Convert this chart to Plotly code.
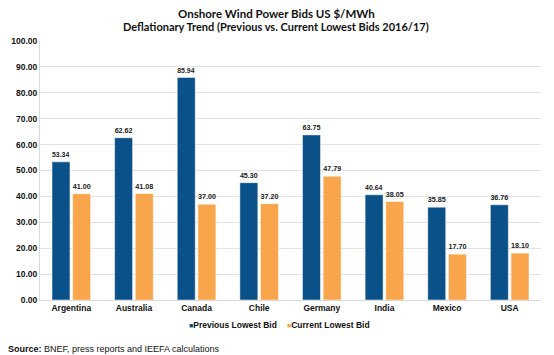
import plotly.graph_objects as go

countries = ["Argentina", "Australia", "Canada", "Chile", "Germany", "India", "Mexico", "USA"]
previous_bid = [53.34, 62.62, 85.94, 45.30, 63.75, 40.64, 35.85, 36.76]
current_bid = [41.00, 41.08, 37.00, 37.20, 47.79, 38.05, 17.70, 18.10]
y_ticks = [0, 10, 20, 30, 40, 50, 60, 70, 80, 90, 100]
series_names = ["Previous Lowest Bid", "Current Lowest Bid"]

BLUE = "#0B5189"
ORANGE = "#F8A54B"
FONT = "Liberation Sans, Arial, sans-serif"
TFONT = "Lato, DejaVu Sans, sans-serif"

fig = go.Figure()
fig.add_trace(go.Bar(
    x=countries, y=previous_bid, name=series_names[0],
    marker=dict(color=BLUE, line=dict(color="white", width=0.5)),
    text=[f"{v:.2f}" for v in previous_bid], textposition="outside",
    textfont=dict(family=FONT, size=7.5, color="#222", weight="bold"), cliponaxis=False,
))
fig.add_trace(go.Bar(
    x=countries, y=current_bid, name=series_names[1],
    marker=dict(color=ORANGE, line=dict(color="white", width=0.5)),
    text=[f"{v:.2f}" for v in current_bid], textposition="outside",
    textfont=dict(family=FONT, size=7.5, color="#222", weight="bold"), cliponaxis=False,
))

# plot area in page pixels: x 40..541, y 40.5..300.5
X0, X1, Y0, Y1 = 40.0, 541.0, 40.5, 300.5

def py(pix):
    return (Y1 - pix) / (Y1 - Y0)

def px(pix):
    return (pix - X0) / (X1 - X0)

# page body has an 8px margin, so the figure is 8px smaller and shifted
fig.update_layout(
    width=546, height=347,
    margin=dict(l=32, r=13, t=32.5, b=54.5, autoexpand=False),
    paper_bgcolor="white", plot_bgcolor="white",
    barmode="group", bargap=0.34, bargroupgap=0.13,
    showlegend=False,
    xaxis=dict(
        showgrid=False, showline=True, linecolor="#D9D9D9", linewidth=1,
        ticks="", tickfont=dict(family=FONT, size=8.5, color="#111", weight="bold"),
    ),
    yaxis=dict(
        range=[0, 100], tickvals=y_ticks, tickformat=".2f",
        showgrid=True, gridcolor="#E3E3E3", gridwidth=1,
        showline=True, linecolor="#D9D9D9",
        zeroline=False,
        tickfont=dict(family=FONT, size=8.5, color="#111", weight="bold"),
    ),
    font=dict(family=FONT),
)

# title
fig.add_annotation(
    text="<b>Onshore Wind Power Bids US $/MWh</b>",
    xref="paper", yref="paper", x=px(276), y=py(12.5), xanchor="center", yanchor="middle",
    showarrow=False, font=dict(family=TFONT, size=11.5, color="#111"),
)
fig.add_annotation(
    text="<b>Deflationary Trend (Previous vs. Current Lowest Bids 2016/17)</b>",
    xref="paper", yref="paper", x=px(276), y=py(26), xanchor="center", yanchor="middle",
    showarrow=False, font=dict(family=TFONT, size=11, color="#111"),
)

# legend
fig.add_annotation(
    text=f"<span style='color:{BLUE};font-size:7px'>■</span><b>{series_names[0]}</b>",
    xref="paper", yref="paper", x=px(187), y=py(326), xanchor="left", yanchor="middle",
    showarrow=False, font=dict(family=FONT, size=8.5, color="#111"),
)
fig.add_annotation(
    text=f"<span style='color:{ORANGE};font-size:7px'>■</span><b>{series_names[1]}</b>",
    xref="paper", yref="paper", x=px(285), y=py(326), xanchor="left", yanchor="middle",
    showarrow=False, font=dict(family=FONT, size=8.5, color="#111"),
)

# source
fig.add_annotation(
    text="<b>Source:</b> BNEF, press reports and IEEFA calculations",
    xref="paper", yref="paper", x=px(6), y=py(350), xanchor="left", yanchor="middle",
    showarrow=False, font=dict(family=FONT, size=9, color="#111"),
)

fig.write_html("out.html")
